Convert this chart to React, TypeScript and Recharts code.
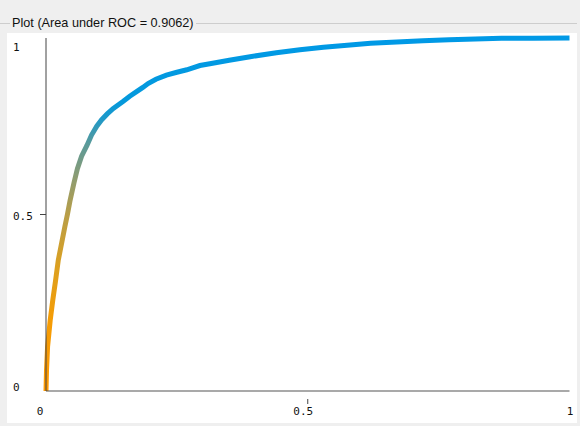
import React from "react";
import { LineChart, Line, XAxis, YAxis } from "recharts";

const fpr = [0, 0.001, 0.003, 0.008, 0.013, 0.018, 0.0235, 0.03, 0.036, 0.041, 0.046, 0.0535, 0.06, 0.068, 0.078, 0.087, 0.097, 0.106, 0.117, 0.128, 0.147, 0.16, 0.173, 0.185, 0.195, 0.21, 0.23, 0.25, 0.269, 0.294, 0.313, 0.35, 0.39, 0.44, 0.485, 0.53, 0.581, 0.62, 0.67, 0.72, 0.77, 0.82, 0.87, 0.93, 1.0];
const tpr = [0, 0.06, 0.125, 0.2, 0.258, 0.31, 0.371, 0.42, 0.465, 0.501, 0.54, 0.59, 0.63, 0.665, 0.695, 0.725, 0.75, 0.768, 0.785, 0.8, 0.82, 0.835, 0.848, 0.86, 0.871, 0.883, 0.895, 0.903, 0.91, 0.922, 0.927, 0.937, 0.947, 0.958, 0.967, 0.974, 0.98, 0.985, 0.989, 0.992, 0.995, 0.997, 0.999, 0.9995, 1.0];
const xTicks = [0, 0.5, 1];
const yTicks = [0, 0.5, 1];
const xTickLabels = ["0", "0.5", "1"];
const yTickLabels = ["0", "0.5", "1"];
const title = "Plot (Area under ROC = 0.9062)";

const data = fpr.map((x, i) => ({ fpr: x, tpr: tpr[i] }));

const mono = "'DejaVu Sans Mono', monospace";

const XTick = (props: any) => {
  const { x, y, payload } = props;
  const i = xTicks.indexOf(payload.value);
  const dx = payload.value === 0 ? -6 : payload.value === 0.5 ? -4.5 : 0.5;
  return (
    <g>
      {payload.value === 0.5 && <line x1={x} x2={x} y1={y} y2={y + 5} stroke="#444" strokeWidth={1} />}
      <text x={x + dx} y={y + 16} textAnchor="middle" fontFamily={mono} fontSize={11} fill="#111">
        {xTickLabels[i]}
      </text>
    </g>
  );
};

const YTick = (props: any) => {
  const { x, y, payload } = props;
  const i = yTicks.indexOf(payload.value);
  const dy = payload.value === 1 ? 13 : payload.value === 0.5 ? 5.5 : -0.5;
  return (
    <g>
      {payload.value === 0.5 && <line x1={46 - 6} x2={46} y1={y} y2={y} stroke="#444" strokeWidth={1} />}
      <text x={13} y={y + dy} textAnchor="start" fontFamily={mono} fontSize={11} fill="#111">
        {yTickLabels[i]}
      </text>
    </g>
  );
};

export default function App() {
  return (
    <div style={{ position: "absolute", left: 0, top: 0, width: 580, height: 426, background: "#efefef", overflow: "hidden" }}>
      <div style={{ position: "absolute", left: 0, top: 23, width: 577, height: 1, background: "#cdcdcd" }} />
      <div style={{ position: "absolute", left: 7, top: 33, width: 570, height: 390, background: "#ffffff" }} />
      <div
        style={{
          position: "absolute",
          left: 10,
          top: 15,
          padding: "0 2px",
          background: "#efefef",
          fontFamily: "'Liberation Sans', Arial, sans-serif",
          fontSize: 12.7,
          lineHeight: "16px",
          color: "#111",
        }}
      >
        {title}
      </div>
      <div style={{ position: "absolute", left: 0, top: 0 }}>
        <LineChart width={580} height={426} data={data} margin={{ top: 38, right: 10.5, bottom: 5, left: 6 }}>
          <defs>
            <linearGradient id="rocGrad" x1="0" y1="0" x2="0" y2="1">
              <stop offset="0" stopColor="#0099e6" />
              <stop offset="0.18" stopColor="#0499dc" />
              <stop offset="0.23" stopColor="#1f99c8" />
              <stop offset="0.3" stopColor="#5a9a9a" />
              <stop offset="0.4" stopColor="#8f9c70" />
              <stop offset="0.5" stopColor="#b89e48" />
              <stop offset="0.65" stopColor="#dca020" />
              <stop offset="0.8" stopColor="#f59c05" />
              <stop offset="1" stopColor="#ff9900" />
            </linearGradient>
          </defs>
          <XAxis
            dataKey="fpr"
            type="number"
            domain={[0, 1]}
            ticks={xTicks}
            height={30}
            axisLine={{ stroke: "#555", strokeWidth: 1.2 }}
            tickLine={false}
            tick={<XTick />}
            interval={0}
          />
          <YAxis
            dataKey="tpr"
            type="number"
            domain={[0, 1]}
            ticks={yTicks}
            width={40}
            axisLine={{ stroke: "#444", strokeWidth: 1 }}
            tickLine={false}
            tick={<YTick />}
            interval={0}
          />
          <Line
            type="linear"
            dataKey="tpr"
            stroke="url(#rocGrad)"
            strokeWidth={5}
            dot={false}
            activeDot={false}
            isAnimationActive={false}
          />
        </LineChart>
      </div>
    </div>
  );
}
